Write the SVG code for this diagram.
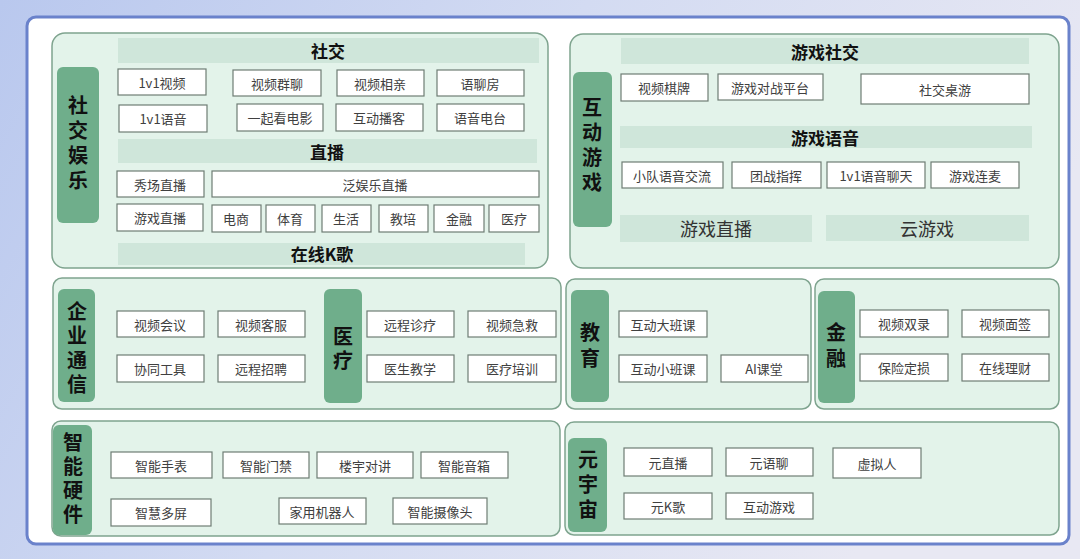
<svg xmlns="http://www.w3.org/2000/svg" width="1080" height="559" viewBox="0 0 1080 559">
<defs>
<linearGradient id="bg" x1="0" y1="0" x2="1" y2="0.3">
<stop offset="0" stop-color="#b9c8ee"/>
<stop offset="0.5" stop-color="#d3dbf2"/>
<stop offset="1" stop-color="#e8e8f3"/>
</linearGradient>
<style>
text{font-family:"Noto Sans CJK SC","Liberation Sans",sans-serif;text-anchor:middle;dominant-baseline:central}
.sec{fill:#e3f3ea;stroke:#7fa48f;stroke-width:1.5}
.pill{fill:#6fae8b}
.bar{fill:#cfe6da}
.box{fill:#ffffff;stroke:#6e7d74;stroke-width:1.2}
.bt{font-size:13px;fill:#404040}
.ht{font-size:17px;font-weight:bold;fill:#111}
.pt{font-size:20px;font-weight:bold;fill:#111;writing-mode:vertical-rl;text-orientation:upright;letter-spacing:5px}
.lt{font-size:18px;fill:#333}
</style>
</defs>
<rect x="0" y="0" width="1080" height="559" fill="url(#bg)"/>
<rect x="27" y="17" width="1042" height="527" rx="9" fill="#ffffff" stroke="#6a82cb" stroke-width="3"/>

<g id="social">
<rect class="sec" x="52" y="33" width="496" height="235" rx="13"/>
<rect class="pill" x="57" y="67" width="42" height="156" rx="6"/>
<text class="pt" x="78" y="145">社交娱乐</text>
<rect class="bar" x="118" y="38" width="421" height="25"/>
<text class="ht" x="328" y="50">社交</text>
<rect class="box" x="118" y="69" width="88" height="26"/><text class="bt" x="162" y="82">1v1视频</text>
<rect class="box" x="233" y="70" width="88" height="26"/><text class="bt" x="277" y="83">视频群聊</text>
<rect class="box" x="337" y="70" width="87" height="26"/><text class="bt" x="380" y="83">视频相亲</text>
<rect class="box" x="437" y="70" width="87" height="26"/><text class="bt" x="480" y="83">语聊房</text>
<rect class="box" x="119" y="105" width="88" height="27"/><text class="bt" x="163" y="118">1v1语音</text>
<rect class="box" x="237" y="104" width="86" height="27"/><text class="bt" x="280" y="117">一起看电影</text>
<rect class="box" x="336" y="104" width="87" height="27"/><text class="bt" x="379" y="117">互动播客</text>
<rect class="box" x="437" y="104" width="87" height="27"/><text class="bt" x="480" y="117">语音电台</text>
<rect class="bar" x="118" y="139" width="419" height="24"/>
<text class="ht" x="327" y="151">直播</text>
<rect class="box" x="117" y="171" width="87" height="26"/><text class="bt" x="160" y="184">秀场直播</text>
<rect class="box" x="212" y="171" width="327" height="26"/><text class="bt" x="375" y="184">泛娱乐直播</text>
<rect class="box" x="117" y="204" width="86" height="27"/><text class="bt" x="160" y="217">游戏直播</text>
<rect class="box" x="212" y="205" width="49" height="27"/><text class="bt" x="236" y="218">电商</text>
<rect class="box" x="266" y="205" width="49" height="27"/><text class="bt" x="290" y="218">体育</text>
<rect class="box" x="322" y="205" width="49" height="27"/><text class="bt" x="346" y="218">生活</text>
<rect class="box" x="379" y="205" width="49" height="27"/><text class="bt" x="403" y="218">教培</text>
<rect class="box" x="434" y="205" width="50" height="27"/><text class="bt" x="459" y="218">金融</text>
<rect class="box" x="489" y="205" width="50" height="27"/><text class="bt" x="514" y="218">医疗</text>
<rect class="bar" x="118" y="243" width="407" height="22"/>
<text class="ht" x="322" y="253">在线K歌</text>
</g>

<g id="game">
<rect class="sec" x="570" y="34" width="489" height="234" rx="13"/>
<rect class="pill" x="573" y="72" width="39" height="155" rx="6"/>
<text class="pt" x="592" y="147">互动游戏</text>
<rect class="bar" x="621" y="38" width="408" height="26"/>
<text class="ht" x="825" y="51">游戏社交</text>
<rect class="box" x="621" y="74" width="87" height="27"/><text class="bt" x="664" y="87">视频棋牌</text>
<rect class="box" x="718" y="74" width="105" height="26"/><text class="bt" x="770" y="87">游戏对战平台</text>
<rect class="box" x="861" y="74" width="168" height="30"/><text class="bt" x="945" y="89">社交桌游</text>
<rect class="bar" x="620" y="126" width="412" height="22"/>
<text class="ht" x="825" y="137">游戏语音</text>
<rect class="box" x="622" y="162" width="101" height="26"/><text class="bt" x="672" y="175">小队语音交流</text>
<rect class="box" x="732" y="162" width="89" height="26"/><text class="bt" x="776" y="175">团战指挥</text>
<rect class="box" x="827" y="162" width="98" height="26"/><text class="bt" x="876" y="175">1v1语音聊天</text>
<rect class="box" x="931" y="162" width="88" height="26"/><text class="bt" x="975" y="175">游戏连麦</text>
<rect class="bar" x="620" y="215" width="192" height="27"/>
<text class="lt" x="716" y="228">游戏直播</text>
<rect class="bar" x="826" y="215" width="203" height="26"/>
<text class="lt" x="927" y="228">云游戏</text>
</g>

<g id="enterprise">
<rect class="sec" x="53" y="278" width="508" height="131" rx="9"/>
<rect class="pill" x="58" y="289" width="37" height="113" rx="6"/>
<text class="pt" x="77" y="350" style="letter-spacing:4.5px">企业通信</text>
<rect class="box" x="117" y="311" width="87" height="26"/><text class="bt" x="160" y="324">视频会议</text>
<rect class="box" x="218" y="311" width="87" height="26"/><text class="bt" x="261" y="324">视频客服</text>
<rect class="box" x="117" y="355" width="87" height="27"/><text class="bt" x="160" y="368">协同工具</text>
<rect class="box" x="218" y="355" width="87" height="27"/><text class="bt" x="261" y="368">远程招聘</text>
</g>

<g id="medical">
<rect class="pill" x="324" y="289" width="38" height="114" rx="6"/>
<text class="pt" x="343" y="350" style="letter-spacing:4px">医疗</text>
<rect class="box" x="367" y="311" width="87" height="26"/><text class="bt" x="410" y="324">远程诊疗</text>
<rect class="box" x="468" y="311" width="88" height="26"/><text class="bt" x="512" y="324">视频急救</text>
<rect class="box" x="367" y="355" width="87" height="27"/><text class="bt" x="410" y="368">医生教学</text>
<rect class="box" x="468" y="355" width="88" height="27"/><text class="bt" x="512" y="368">医疗培训</text>
</g>

<g id="education">
<rect class="sec" x="566" y="279" width="245" height="130" rx="9"/>
<rect class="pill" x="571" y="290" width="38" height="112" rx="6"/>
<text class="pt" x="590" y="348" style="letter-spacing:6px">教育</text>
<rect class="box" x="619" y="311" width="88" height="26"/><text class="bt" x="663" y="324">互动大班课</text>
<rect class="box" x="619" y="355" width="88" height="27"/><text class="bt" x="663" y="368">互动小班课</text>
<rect class="box" x="721" y="355" width="87" height="27"/><text class="bt" x="764" y="368">AI课堂</text>
</g>

<g id="finance">
<rect class="sec" x="815" y="279" width="244" height="130" rx="9"/>
<rect class="pill" x="818" y="291" width="37" height="112" rx="6"/>
<text class="pt" x="836" y="348" style="letter-spacing:6px">金融</text>
<rect class="box" x="860" y="310" width="88" height="27"/><text class="bt" x="904" y="323">视频双录</text>
<rect class="box" x="962" y="310" width="87" height="27"/><text class="bt" x="1005" y="323">视频面签</text>
<rect class="box" x="860" y="354" width="88" height="27"/><text class="bt" x="904" y="367">保险定损</text>
<rect class="box" x="962" y="354" width="87" height="27"/><text class="bt" x="1005" y="367">在线理财</text>
</g>

<g id="hardware">
<rect class="sec" x="52" y="421" width="508" height="115" rx="9"/>
<rect class="pill" x="53" y="425" width="39" height="110" rx="6"/>
<text class="pt" x="73" y="480" style="letter-spacing:4px">智能硬件</text>
<rect class="box" x="111" y="452" width="101" height="26"/><text class="bt" x="161" y="465">智能手表</text>
<rect class="box" x="223" y="452" width="86" height="26"/><text class="bt" x="266" y="465">智能门禁</text>
<rect class="box" x="317" y="452" width="96" height="26"/><text class="bt" x="365" y="465">楼宇对讲</text>
<rect class="box" x="421" y="452" width="87" height="26"/><text class="bt" x="464" y="465">智能音箱</text>
<rect class="box" x="111" y="499" width="100" height="27"/><text class="bt" x="161" y="512">智慧多屏</text>
<rect class="box" x="279" y="498" width="87" height="26"/><text class="bt" x="322" y="511">家用机器人</text>
<rect class="box" x="393" y="498" width="94" height="26"/><text class="bt" x="440" y="511">智能摄像头</text>
</g>

<g id="metaverse">
<rect class="sec" x="565" y="422" width="494" height="113" rx="9"/>
<rect class="pill" x="568" y="438" width="39" height="94" rx="6"/>
<text class="pt" x="588" y="487">元宇宙</text>
<rect class="box" x="624" y="448" width="88" height="28"/><text class="bt" x="668" y="462">元直播</text>
<rect class="box" x="726" y="448" width="87" height="28"/><text class="bt" x="769" y="462">元语聊</text>
<rect class="box" x="833" y="448" width="88" height="30"/><text class="bt" x="877" y="463">虚拟人</text>
<rect class="box" x="624" y="493" width="88" height="26"/><text class="bt" x="668" y="506">元K歌</text>
<rect class="box" x="726" y="493" width="87" height="26"/><text class="bt" x="769" y="506">互动游戏</text>
</g>

<g id="connectors"></g>
</svg>
